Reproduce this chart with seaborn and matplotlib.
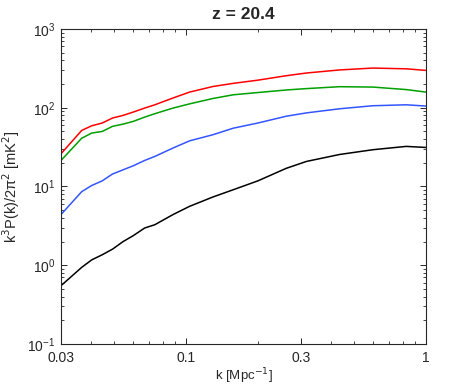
import numpy as np
import pandas as pd
import seaborn as sns
import matplotlib.pyplot as plt
from matplotlib.ticker import FixedLocator, FixedFormatter, LogLocator, NullFormatter

k = [0.03, 0.0366, 0.0403, 0.0446, 0.0492, 0.0545, 0.06, 0.067, 0.0739, 0.088,
     0.1032, 0.129, 0.157, 0.199, 0.261, 0.317, 0.436, 0.6, 0.827, 1.0]
red = [26, 51.5, 59, 64, 74, 80, 88, 99, 109, 133,
       158, 186, 204, 224, 255, 276, 302, 319, 312, 298]
green = [21.4, 41, 47.7, 50, 58, 62, 67, 76, 84, 99,
         112, 131, 146, 156, 168, 175, 185, 183, 170, 158]
blue = [4.4, 8.6, 10.3, 11.8, 14.4, 16.3, 18.3, 21.4, 24.1, 30.8,
        38, 45.4, 55, 64, 78, 86, 97, 106, 109, 105]
black = [0.55, 0.94, 1.17, 1.36, 1.6, 2.0, 2.37, 2.97, 3.27, 4.4,
         5.6, 7.35, 9.1, 11.8, 17.0, 20.8, 25.5, 29.3, 32.3, 31.3]

xticks = [0.03, 0.1, 0.3, 1]
xticklabels = ["0.03", "0.1", "0.3", "1"]

series = {"red": red, "green": green, "blue": blue, "black": black}
colors = {"red": "#ff0000", "green": "#00a000", "blue": "#3355ff", "black": "#000000"}
df = pd.concat([pd.DataFrame({"k": k, "P": v, "s": name}) for name, v in series.items()])

sns.set_style("ticks")
plt.rcParams['font.family'] = ['Liberation Sans', 'DejaVu Sans']

fig = plt.figure(figsize=(4.71, 3.88), dpi=100)
ax = fig.add_axes([0.1295, 0.1134, 0.775, 0.8119])
sns.lineplot(data=df, x="k", y="P", hue="s", palette=colors, linewidth=1.1,
             legend=False, ax=ax)
ax.set_xscale("log")
ax.set_yscale("log")
ax.set_xlim(0.03, 1)
ax.set_ylim(0.1, 1000)

ax.xaxis.set_major_locator(FixedLocator(xticks))
ax.xaxis.set_major_formatter(FixedFormatter(xticklabels))
ax.xaxis.set_minor_locator(LogLocator(base=10, subs=np.arange(2, 10)))
ax.xaxis.set_minor_formatter(NullFormatter())
ax.yaxis.set_major_locator(LogLocator(base=10, numticks=10))
ax.yaxis.set_minor_locator(LogLocator(base=10, subs=np.arange(2, 10), numticks=20))
ax.yaxis.set_minor_formatter(NullFormatter())

ax.tick_params(which="both", direction="in", top=True, right=True, labelsize=10)
ax.tick_params(which="major", length=4, width=0.7)
ax.tick_params(which="minor", length=2, width=0.6)
ax.tick_params(axis="x", which="major", pad=5)
ax.tick_params(axis="y", which="major", pad=4)
for sp in ax.spines.values():
    sp.set_linewidth(0.8)

ax.set_xlabel("k [Mpc$^{-1}$]", fontsize=9.5, labelpad=1)
ax.set_ylabel("k$^3$P(k)/2\u03c0$^2$ [mK$^2$]", fontsize=10.5)
ax.set_title("z = 20.4", fontsize=12.5, fontweight="bold", pad=7)

fig.savefig("out.png", dpi=100)
